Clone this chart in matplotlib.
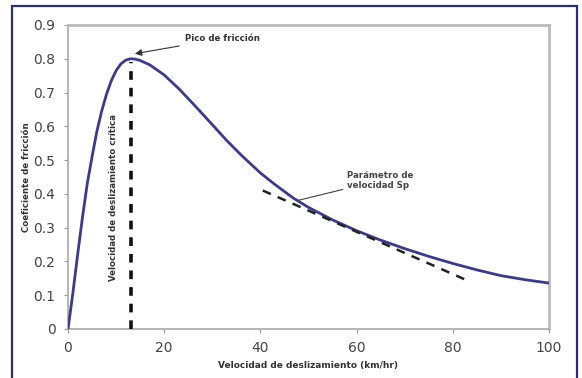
import matplotlib
matplotlib.use("Agg")
import matplotlib.pyplot as plt
from matplotlib.patches import Rectangle

# Friction curve
speed = [0, 1, 2, 3, 4, 5, 6, 7, 8, 9, 10, 11, 12, 13, 14, 15, 17, 20, 23, 26, 30,
         33, 36, 40, 43, 46.8, 50, 55, 60, 65, 70, 75, 80, 85, 90, 95, 100]
mu = [0, 0.105, 0.22, 0.33, 0.43, 0.51, 0.585, 0.645, 0.695, 0.735, 0.765, 0.785,
      0.796, 0.800, 0.799, 0.795, 0.782, 0.752, 0.712, 0.667, 0.605, 0.558, 0.515,
      0.462, 0.428, 0.388, 0.360, 0.323, 0.291, 0.263, 0.238, 0.215, 0.194, 0.175,
      0.158, 0.146, 0.136]

critical_speed = 13.0
peak_mu = 0.80
tangent_x = [40.5, 83.6]
tangent_y = [0.41, 0.14]

xticks = [0, 20, 40, 60, 80, 100]
yticks = [0, 0.1, 0.2, 0.3, 0.4, 0.5, 0.6, 0.7, 0.8, 0.9]

fig = plt.figure(figsize=(5.82, 3.78), dpi=100)
fig.patch.set_facecolor("white")
ax = fig.add_axes([68/582, 49/378, 481/582, 304/378])

ax.plot(speed, mu, color="#3b3a8e", lw=2.0, zorder=3, solid_joinstyle="round")
ax.plot([critical_speed, critical_speed], [0, peak_mu - 0.01], color="#111111",
        lw=2.6, dashes=(2.4, 2.2), zorder=4)
ax.plot(tangent_x, tangent_y, color="#222222", lw=1.8, dashes=(3.5, 3), zorder=4)

ax.set_xlim(0, 100)
ax.set_ylim(0, 0.9)
ax.set_xticks(xticks)
ax.set_yticks(yticks)
ax.set_xticklabels([str(v) for v in xticks])
ax.set_yticklabels(["0" if v == 0 else f"{v:.1f}" for v in yticks])
ax.tick_params(direction="out", length=3, width=0.8, color="#999999",
               labelsize=10, labelcolor="#444444", pad=6)
for s in ax.spines.values():
    s.set_color("#a8a8a8")
    s.set_linewidth(1.2)
ax.spines["top"].set_linewidth(2.0)
ax.spines["right"].set_linewidth(2.0)
ax.spines["top"].set_color("#bbbbbb")
ax.spines["right"].set_color("#bbbbbb")

ax.set_xlabel("Velocidad de deslizamiento (km/hr)", fontsize=6.5, fontweight="bold",
              color="#333333", labelpad=4)
ax.set_ylabel("Coeficiente de fricción", fontsize=6.2, fontweight="bold",
              color="#333333", labelpad=2)

ax.annotate("Pico de fricción", xy=(13.9, 0.815), xytext=(24.3, 0.86),
            fontsize=6.2, fontweight="bold", color="#333333", va="center",
            arrowprops=dict(arrowstyle="-|>", color="#333333", lw=0.8,
                            mutation_scale=10, shrinkA=2, shrinkB=0))
ax.annotate("Parámetro de\nvelocidad Sp", xy=(47.6, 0.38), xytext=(58, 0.44),
            fontsize=6.2, fontweight="bold", color="#444444", va="center",
            linespacing=1.2,
            arrowprops=dict(arrowstyle="-", color="#444444", lw=0.8,
                            shrinkA=1, shrinkB=0))
ax.text(9.4, 0.39, "Velocidad de deslizamiento crítica", rotation=90,
        fontsize=6.2, fontweight="bold", color="#333333", ha="center", va="center")

fig.patches.append(Rectangle((12/582, -0.02), 565/582, 1.0 - 6/378 + 0.02,
                             transform=fig.transFigure, fill=False,
                             edgecolor="#2b2f7a", lw=1.6))

fig.savefig("out.png", dpi=100)
